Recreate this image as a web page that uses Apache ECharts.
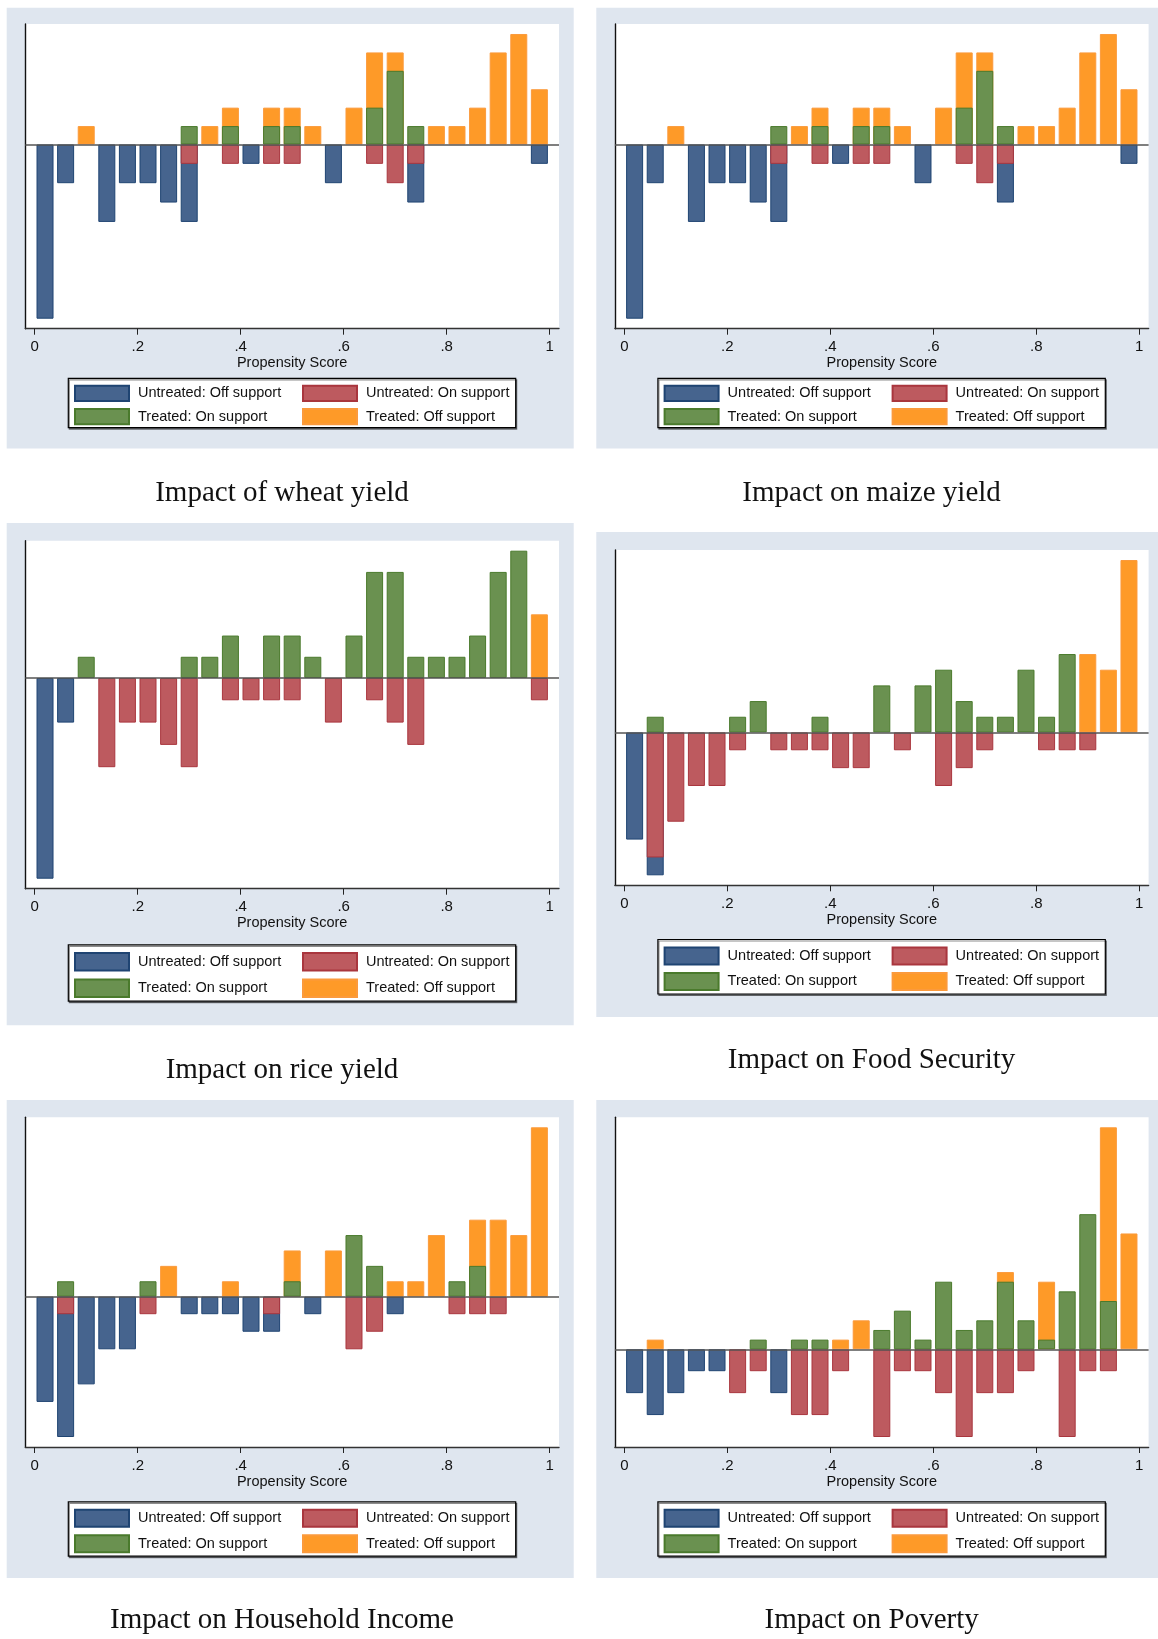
<!DOCTYPE html>
<html>
<head>
<meta charset="utf-8">
<script src="https://cdn.jsdelivr.net/npm/echarts@6/dist/echarts.min.js"></script>
<style>
  html, body { margin: 0; padding: 0; background: #ffffff; }
  #chart { width: 1158px; height: 1639px; }
</style>
</head>
<body>
<div id="chart"></div>
<script>
// Propensity-score histogram bins: 25 bins of width 0.04 on [0, 1]
const binCenters = [0.02, 0.06, 0.10, 0.14, 0.18, 0.22, 0.26, 0.30, 0.34, 0.38, 0.42, 0.46, 0.50,
                    0.54, 0.58, 0.62, 0.66, 0.70, 0.74, 0.78, 0.82, 0.86, 0.90, 0.94, 0.98];
const tickValues = [0, 0.2, 0.4, 0.6, 0.8, 1];
const tickLabels = ['0', '.2', '.4', '.6', '.8', '1'];
const groupNames = ['Untreated: Off support', 'Untreated: On support', 'Treated: On support', 'Treated: Off support'];

// Observations per bin (counts)
const wheatUntreatedOff = [9, 2, 0, 4, 2, 2, 3, 3, 0, 0, 1, 0, 0, 0, 2, 0, 0, 0, 2, 0, 0, 0, 0, 0, 1];
const wheatUntreatedOn  = [0, 0, 0, 0, 0, 0, 0, 1, 0, 1, 0, 1, 1, 0, 0, 0, 1, 2, 1, 0, 0, 0, 0, 0, 0];
const wheatTreatedOn    = [0, 0, 0, 0, 0, 0, 0, 1, 0, 1, 0, 1, 1, 0, 0, 0, 2, 4, 1, 0, 0, 0, 0, 0, 0];
const wheatTreatedOff   = [0, 0, 1, 0, 0, 0, 0, 0, 1, 1, 0, 1, 1, 1, 0, 2, 3, 1, 0, 1, 1, 2, 5, 6, 3];

const maizeUntreatedOff = [9, 2, 0, 4, 2, 2, 3, 3, 0, 0, 1, 0, 0, 0, 2, 0, 0, 0, 2, 0, 0, 0, 0, 0, 1];
const maizeUntreatedOn  = [0, 0, 0, 0, 0, 0, 0, 1, 0, 1, 0, 1, 1, 0, 0, 0, 1, 2, 1, 0, 0, 0, 0, 0, 0];
const maizeTreatedOn    = [0, 0, 0, 0, 0, 0, 0, 1, 0, 1, 0, 1, 1, 0, 0, 0, 2, 4, 1, 0, 0, 0, 0, 0, 0];
const maizeTreatedOff   = [0, 0, 1, 0, 0, 0, 0, 0, 1, 1, 0, 1, 1, 1, 0, 2, 3, 1, 0, 1, 1, 2, 5, 6, 3];

const riceUntreatedOff  = [9, 2, 0, 0, 0, 0, 0, 0, 0, 0, 0, 0, 0, 0, 0, 0, 0, 0, 0, 0, 0, 0, 0, 0, 0];
const riceUntreatedOn   = [0, 0, 0, 4, 2, 2, 3, 4, 0, 1, 1, 1, 1, 0, 2, 0, 1, 2, 3, 0, 0, 0, 0, 0, 1];
const riceTreatedOn     = [0, 0, 1, 0, 0, 0, 0, 1, 1, 2, 0, 2, 2, 1, 0, 2, 5, 5, 1, 1, 1, 2, 5, 6, 0];
const riceTreatedOff    = [0, 0, 0, 0, 0, 0, 0, 0, 0, 0, 0, 0, 0, 0, 0, 0, 0, 0, 0, 0, 0, 0, 0, 0, 3];

const foodUntreatedOff  = [6, 1, 0, 0, 0, 0, 0, 0, 0, 0, 0, 0, 0, 0, 0, 0, 0, 0, 0, 0, 0, 0, 0, 0, 0];
const foodUntreatedOn   = [0, 7, 5, 3, 3, 1, 0, 1, 1, 1, 2, 2, 0, 1, 0, 3, 2, 1, 0, 0, 1, 1, 1, 0, 0];
const foodTreatedOn     = [0, 1, 0, 0, 0, 1, 2, 0, 0, 1, 0, 0, 3, 0, 3, 4, 2, 1, 1, 4, 1, 5, 0, 0, 0];
const foodTreatedOff    = [0, 0, 0, 0, 0, 0, 0, 0, 0, 0, 0, 0, 0, 0, 0, 0, 0, 0, 0, 0, 0, 0, 5, 4, 11];

const incomeUntreatedOff = [6, 7, 5, 3, 3, 0, 0, 1, 1, 1, 2, 1, 0, 1, 0, 0, 0, 1, 0, 0, 0, 0, 0, 0, 0];
const incomeUntreatedOn  = [0, 1, 0, 0, 0, 1, 0, 0, 0, 0, 0, 1, 0, 0, 0, 3, 2, 0, 0, 0, 1, 1, 1, 0, 0];
const incomeTreatedOn    = [0, 1, 0, 0, 0, 1, 0, 0, 0, 0, 0, 0, 1, 0, 0, 4, 2, 0, 0, 0, 1, 2, 0, 0, 0];
const incomeTreatedOff   = [0, 0, 0, 0, 0, 0, 2, 0, 0, 1, 0, 0, 2, 0, 3, 0, 0, 1, 1, 4, 0, 3, 5, 4, 11];

const povertyUntreatedOff = [2, 3, 2, 1, 1, 0, 0, 2, 0, 0, 0, 0, 0, 0, 0, 0, 0, 0, 0, 0, 0, 0, 0, 0, 0];
const povertyUntreatedOn  = [0, 0, 0, 0, 0, 2, 1, 0, 3, 3, 1, 0, 4, 1, 1, 2, 4, 2, 2, 1, 0, 4, 1, 1, 0];
const povertyTreatedOn    = [0, 0, 0, 0, 0, 0, 1, 0, 1, 1, 0, 0, 2, 4, 1, 7, 2, 3, 7, 3, 1, 6, 14, 5, 0];
const povertyTreatedOff   = [0, 1, 0, 0, 0, 0, 0, 0, 0, 0, 1, 3, 0, 0, 0, 0, 0, 0, 1, 0, 6, 0, 0, 18, 12];

const panelTitles = ['Impact of wheat yield', 'Impact on maize yield', 'Impact on rice yield',
                     'Impact on Food Security', 'Impact on Household Income', 'Impact on Poverty'];

// Panel layout (pixels)
const panels = [
  { title: panelTitles[0], col: 0, bgY: 7.7,  bgH: 440.8, gTop: 24,     gH: 304.7, legY: 378.3,  legH: 49.4, titleY: 493,
    uOff: wheatUntreatedOff, uOn: wheatUntreatedOn, tOn: wheatTreatedOn, tOff: wheatTreatedOff },
  { title: panelTitles[1], col: 1, bgY: 7.7,  bgH: 440.8, gTop: 24,     gH: 304.7, legY: 378.3,  legH: 49.4, titleY: 493,
    uOff: maizeUntreatedOff, uOn: maizeUntreatedOn, tOn: maizeTreatedOn, tOff: maizeTreatedOff },
  { title: panelTitles[2], col: 0, bgY: 523,  bgH: 502.3, gTop: 540.7,  gH: 348,   legY: 944.8,  legH: 56.4, titleY: 1070,
    uOff: riceUntreatedOff, uOn: riceUntreatedOn, tOn: riceTreatedOn, tOff: riceTreatedOff },
  { title: panelTitles[3], col: 1, bgY: 532,  bgH: 485,   gTop: 550,    gH: 335.3, legY: 939.5,  legH: 54.5, titleY: 1060,
    uOff: foodUntreatedOff, uOn: foodUntreatedOn, tOn: foodTreatedOn, tOff: foodTreatedOff },
  { title: panelTitles[4], col: 0, bgY: 1100, bgH: 478,   gTop: 1117.3, gH: 329.7, legY: 1501.8, legH: 54.4, titleY: 1620,
    uOff: incomeUntreatedOff, uOn: incomeUntreatedOn, tOn: incomeTreatedOn, tOff: incomeTreatedOff },
  { title: panelTitles[5], col: 1, bgY: 1100, bgH: 478,   gTop: 1117.3, gH: 329.7, legY: 1501.8, legH: 54.4, titleY: 1620,
    uOff: povertyUntreatedOff, uOn: povertyUntreatedOn, tOn: povertyTreatedOn, tOff: povertyTreatedOff }
];

const COL_SHIFT = 589.6;
const PAGE_W = 1158;
const SANS = '"Liberation Sans", Arial, sans-serif';
const SERIF = '"Liberation Serif", "Times New Roman", serif';
const PANEL_BG = '#dfe6ef';

const styles = {
  'Untreated: Off support': { color: '#46648e', borderColor: '#1f4472' },
  'Untreated: On support':  { color: '#bd5a5f', borderColor: '#a9363e' },
  'Treated: On support':    { color: '#6a9150', borderColor: '#4a7a2c' },
  'Treated: Off support':   { color: '#fe9a28', borderColor: '#fb9a3c' }
};

const sum = a => a.reduce((s, v) => s + v, 0);

const grids = [], xAxes = [], yAxes = [], series = [], legends = [], graphics = [];

panels.forEach((p, i) => {
  const ox = p.col * COL_SHIFT;
  const bgX = 6.7 + ox;
  const bgW = Math.min(567, PAGE_W - bgX);

  // Histogram heights are shares of each group: treated above the axis, untreated below.
  // "On support" sits next to the axis, "Off support" is stacked beyond it, so the
  // off-support bar spans the cumulative count and the on-support bar is drawn over it.
  const nU = sum(p.uOff) + sum(p.uOn);
  const nT = sum(p.tOn) + sum(p.tOff);
  const bars = (counts, n, sign) => counts.map((c, k) => [binCenters[k], c === 0 ? null : sign * c / n]);
  const uTotal = p.uOn.map((c, k) => c + p.uOff[k]);
  const tTotal = p.tOn.map((c, k) => c + p.tOff[k]);
  const uOffCum = uTotal.map((c, k) => (p.uOff[k] === 0 ? 0 : c));
  const tOffCum = tTotal.map((c, k) => (p.tOff[k] === 0 ? 0 : c));

  const top = Math.max(...tTotal) / nT;
  const bottom = -Math.max(...uTotal) / nU;
  const pad = 10;
  const ext = (top - bottom) * pad / (p.gH - 2 * pad);

  graphics.push({
    type: 'rect', z: -10, silent: true,
    shape: { x: bgX, y: p.bgY, width: bgW, height: p.bgH },
    style: { fill: PANEL_BG }
  });

  grids.push({
    left: 25.3 + ox, top: p.gTop, width: 533.7, height: p.gH,
    show: true, backgroundColor: '#ffffff', borderWidth: 0, containLabel: false
  });

  xAxes.push({
    type: 'value', gridIndex: i, min: -0.0183, max: 1.0181,
    axisLine: { show: true, onZero: false, lineStyle: { color: '#333333', width: 1.4 } },
    axisTick: { show: true, customValues: tickValues, length: 6, lineStyle: { color: '#222222', width: 1 } },
    axisLabel: {
      customValues: tickValues, margin: 11, fontSize: 15, fontFamily: SANS, color: '#111111',
      formatter: v => tickLabels[tickValues.findIndex(t => Math.abs(t - v) < 1e-9)]
    },
    splitLine: { show: false },
    name: 'Propensity Score', nameLocation: 'middle', nameGap: 27,
    nameTextStyle: { fontSize: 14.5, fontFamily: SANS, color: '#111111' }
  });

  yAxes.push({
    type: 'value', gridIndex: i, min: bottom - ext, max: top + ext,
    axisLine: { show: true, onZero: false, lineStyle: { color: '#111111', width: 1.4 } },
    axisTick: { show: false }, axisLabel: { show: false }, splitLine: { show: false }
  });

  const parts = [
    ['Untreated: Off support', bars(uOffCum, nU, -1)],
    ['Untreated: On support', bars(p.uOn, nU, -1)],
    ['Treated: Off support', bars(tOffCum, nT, 1)],
    ['Treated: On support', bars(p.tOn, nT, 1)]
  ];
  parts.forEach(([name, data], j) => {
    const s = {
      type: 'bar', name, xAxisIndex: i, yAxisIndex: i,
      barWidth: 17, barGap: '-100%', data, silent: true,
      itemStyle: { color: styles[name].color, borderColor: styles[name].borderColor, borderWidth: 1 }
    };
    if (j === 3) {
      s.markLine = {
        silent: true, symbol: ['none', 'none'], label: { show: false },
        lineStyle: { color: '#555555', width: 1.5, type: 'solid' },
        data: [{ yAxis: 0 }], animation: false
      };
    }
    series.push(s);
  });

  // Legend: framed box with two columns
  const f = p.legH / 49.4;
  const ih = 15.3 * f;
  graphics.push({
    type: 'rect', z: 1, silent: true,
    shape: { x: 68.3 + ox, y: p.legY, width: 447.4, height: p.legH },
    style: { fill: '#ffffff', stroke: '#000000', lineWidth: 1.2, shadowColor: 'rgba(0,0,0,0.45)', shadowOffsetX: 1, shadowOffsetY: 1.5, shadowBlur: 0 }
  });
  const legendCol = (names, x) => ({
    data: names, orient: 'vertical', left: x, top: p.legY + 6.4 * f, padding: 0,
    itemWidth: 54, itemHeight: ih, itemGap: 21.3 * f - ih, icon: 'rect', selectedMode: false, z: 5,
    textStyle: { fontFamily: SANS, fontSize: 14.5, color: '#111111', lineHeight: ih, padding: [0, 0, 0, 4] }
  });
  legends.push(legendCol([groupNames[0], groupNames[2]], 74 + ox));
  legends.push(legendCol([groupNames[1], groupNames[3]], 302 + ox));

  graphics.push({
    type: 'text', z: 2, silent: true, x: 282 + ox, y: p.titleY,
    style: { text: p.title, font: '29px ' + SERIF, fill: '#111111', align: 'center', verticalAlign: 'middle' }
  });
});

const chart = echarts.init(document.getElementById('chart'), null, { renderer: 'canvas' });
chart.setOption({
  animation: false,
  backgroundColor: '#ffffff',
  grid: grids,
  xAxis: xAxes,
  yAxis: yAxes,
  legend: legends,
  graphic: { elements: graphics },
  series: series
});
</script>
</body>
</html>
